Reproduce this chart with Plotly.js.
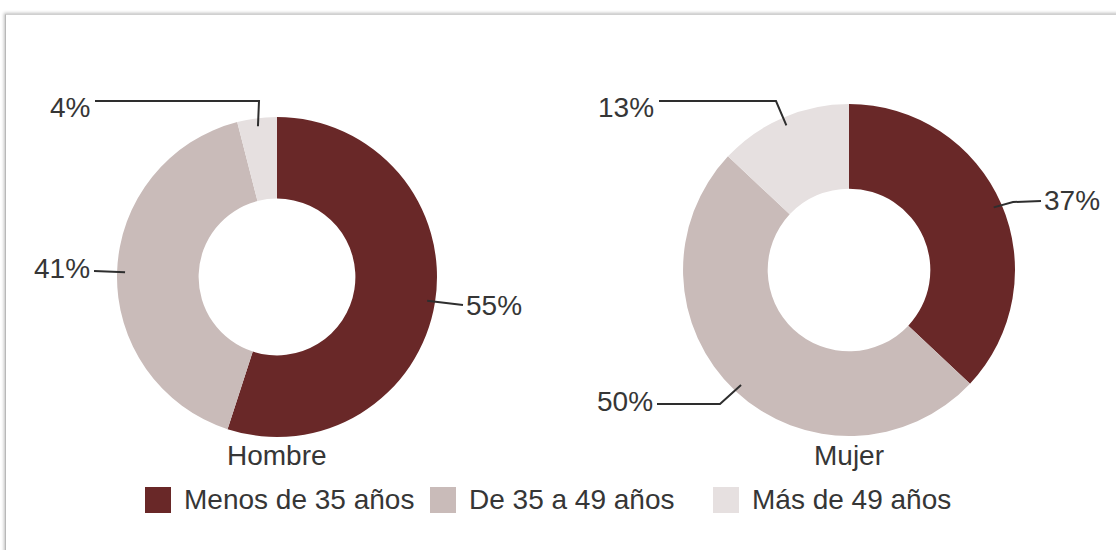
<!DOCTYPE html>
<html>
<head>
<meta charset="utf-8">
<script src="https://cdn.plot.ly/plotly-3.0.1.min.js"></script>
<style>
  body { margin: 0; background: #fff; overflow: hidden; }
  #frame {
    position: absolute; left: 5px; top: 14px; width: 1200px; height: 600px;
    border-left: 1px solid #b8b8b8; border-top: 1px solid #d0d0d0;
    box-shadow: -1px -1px 3px rgba(0,0,0,0.25);
  }
  #chart { position: absolute; left: 0; top: 0; width: 1116px; height: 550px; }
</style>
</head>
<body>
<div id="frame"></div>
<div id="chart"></div>
<script>
// data
let categories = ["Menos de 35 años", "De 35 a 49 años", "Más de 49 años"];
let hombreValues = [55, 41, 4];
let mujerValues = [37, 50, 13];
let groupNames = ["Hombre", "Mujer"];
let colors = ["#692828", "#c9bbb9", "#e6e0e0"];

const W = 1116, H = 550;
const px = x => x / W;
const py = y => 1 - y / H;

// where each donut sits (pixels)
let pies = [
    {values: hombreValues, cx: 277, cy: 277, r: 160},
    {values: mujerValues, cx: 849, cy: 270, r: 166}
];

// label placement per slice: text anchor point + elbow of leader line (pixels)
let labelSpots = [
    [
        {tx: 464, ty: 305, side: "left", start: [463, 305], elbow: null},
        {tx: 92, ty: 269, side: "right", start: [94, 271], elbow: null},
        {tx: 92, ty: 107, side: "right", start: [95, 101], elbow: [259, 101]}
    ],
    [
        {tx: 1042, ty: 200, side: "left", start: [1041, 201], elbow: [1013, 202]},
        {tx: 655, ty: 401, side: "right", start: [657, 404], elbow: [720, 404]},
        {tx: 656, ty: 107, side: "right", start: [659, 101], elbow: [776, 101]}
    ]
];

let font = {family: "Liberation Sans, Arial, sans-serif", size: 28, color: "#363636"};

let data = [];
let annotations = [];
let shapes = [];

pies.forEach(function(p, i) {
    data.push({
        type: "pie",
        values: p.values,
        labels: categories,
        marker: {colors: colors},
        hole: 0.49,
        sort: false,
        direction: "clockwise",
        rotation: 0,
        textinfo: "none",
        hoverinfo: "label+percent",
        showlegend: false,
        domain: {x: [px(p.cx - p.r), px(p.cx + p.r)], y: [py(p.cy + p.r), py(p.cy - p.r)]}
    });

    let total = p.values.reduce((a, b) => a + b, 0);
    let cum = 0;
    p.values.forEach(function(v, j) {
        let mid = (cum + v / 2) / total;
        cum += v;
        let ang = mid * 2 * Math.PI;
        let tip = [p.cx + 0.95 * p.r * Math.sin(ang), p.cy - 0.95 * p.r * Math.cos(ang)];
        let s = labelSpots[i][j];
        let pts = [s.start];
        if (s.elbow) pts.push(s.elbow);
        pts.push(tip);
        let path = pts.map((q, k) => (k ? "L" : "M") + px(q[0]).toFixed(5) + "," + py(q[1]).toFixed(5)).join(" ");
        shapes.push({type: "path", xref: "paper", yref: "paper", path: path,
                     line: {color: "#2e2e2e", width: 2}});
        annotations.push({
            xref: "paper", yref: "paper", x: px(s.tx), y: py(s.ty),
            xanchor: s.side, yanchor: "middle", showarrow: false,
            text: Math.round(v / total * 100) + "%", font: font
        });
    });

    annotations.push({
        xref: "paper", yref: "paper", x: px(p.cx), y: py(455),
        xanchor: "center", yanchor: "middle", showarrow: false,
        text: groupNames[i], font: font
    });
});

// legend drawn by hand so the squares get the reference size
let legendBoxes = [145, 430, 713];
categories.forEach(function(c, k) {
    let x0 = legendBoxes[k];
    shapes.push({type: "rect", xref: "paper", yref: "paper",
                 x0: px(x0), x1: px(x0 + 26), y0: py(513), y1: py(487),
                 fillcolor: colors[k], line: {width: 0}});
    annotations.push({
        xref: "paper", yref: "paper", x: px(x0 + 37), y: py(499),
        xanchor: "left", yanchor: "middle", showarrow: false,
        text: c, font: font
    });
});

let layout = {
    width: W, height: H,
    margin: {l: 0, r: 0, t: 0, b: 0},
    paper_bgcolor: "rgba(0,0,0,0)",
    showlegend: false,
    annotations: annotations,
    shapes: shapes
};

Plotly.newPlot("chart", data, layout, {displayModeBar: false});
</script>
</body>
</html>
